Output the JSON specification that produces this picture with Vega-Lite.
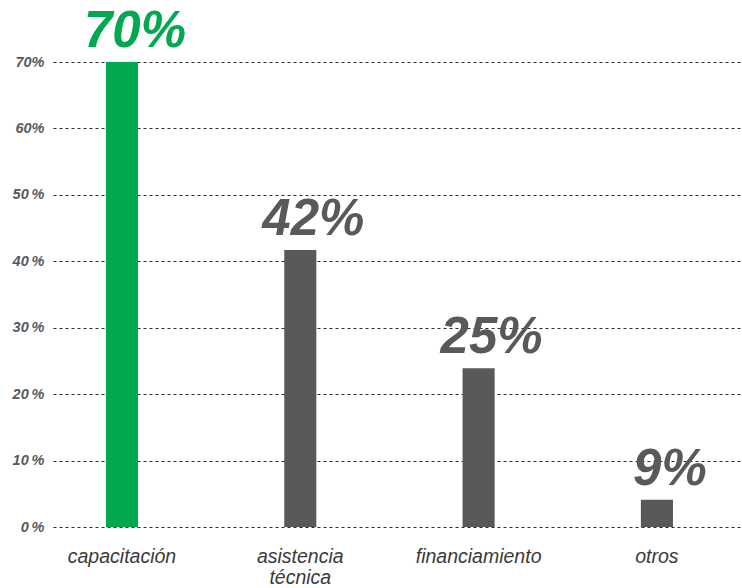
{
  "$schema": "https://vega.github.io/schema/vega-lite/v6.json",
  "width": 689,
  "height": 465,
  "autosize": {"type": "none"},
  "padding": {"left": 53, "top": 62, "right": 0, "bottom": 61},
  "background": "white",
  "config": {"view": {"stroke": null}},
  "data": {
    "values": [
      {"category": "capacitación", "value": 70, "label": "70%"},
      {"category": "asistencia técnica", "value": 41.7, "label": "42%"},
      {"category": "financiamiento", "value": 23.9, "label": "25%"},
      {"category": "otros", "value": 4.1, "label": "9%"}
    ]
  },
  "encoding": {
    "x": {
      "field": "category",
      "type": "nominal",
      "sort": null,
      "title": null,
      "scale": {"type": "band", "paddingInner": 0.82, "paddingOuter": 0.342, "align": 0.434},
      "axis": {
        "domain": false,
        "ticks": false,
        "grid": false,
        "labelAngle": 0,
        "labelPadding": 20,
        "labelFont": "Liberation Sans",
        "labelFontStyle": "italic",
        "labelFontSize": 19.5,
        "labelColor": "#3a3a3a",
        "labelLineHeight": 21,
        "labelExpr": "split(datum.label, ' ')"
      }
    },
    "y": {
      "field": "value",
      "type": "quantitative",
      "title": null,
      "scale": {"domain": [0, 70], "nice": false},
      "axis": {
        "values": [0, 10, 20, 30, 40, 50, 60, 70],
        "domain": false,
        "ticks": false,
        "grid": true,
        "gridDash": [3, 3],
        "gridColor": "#2a2a2a",
        "gridWidth": 1,
        "labelPadding": 9,
        "labelFont": "Liberation Sans",
        "labelFontStyle": "italic",
        "labelFontWeight": "bold",
        "labelFontSize": 14.5,
        "labelColor": "#58595b",
        "labelExpr": "datum.value >= 60 ? datum.value + '%' : datum.value + '\u2009%'"
      }
    }
  },
  "layer": [
    {
      "mark": {"type": "bar"},
      "encoding": {
        "color": {
          "condition": {"test": "datum.category == 'capacitación'", "value": "#00a84f"},
          "value": "#58595b"
        }
      }
    },
    {
      "mark": {
        "type": "text",
        "font": "Liberation Sans",
        "fontStyle": "italic",
        "fontWeight": "bold",
        "fontSize": 51,
        "baseline": "alphabetic",
        "align": "center",
        "dx": 13,
        "dy": -15
      },
      "encoding": {
        "text": {"field": "label"},
        "color": {
          "condition": {"test": "datum.category == 'capacitación'", "value": "#00a84f"},
          "value": "#58595b"
        }
      }
    }
  ]
}
